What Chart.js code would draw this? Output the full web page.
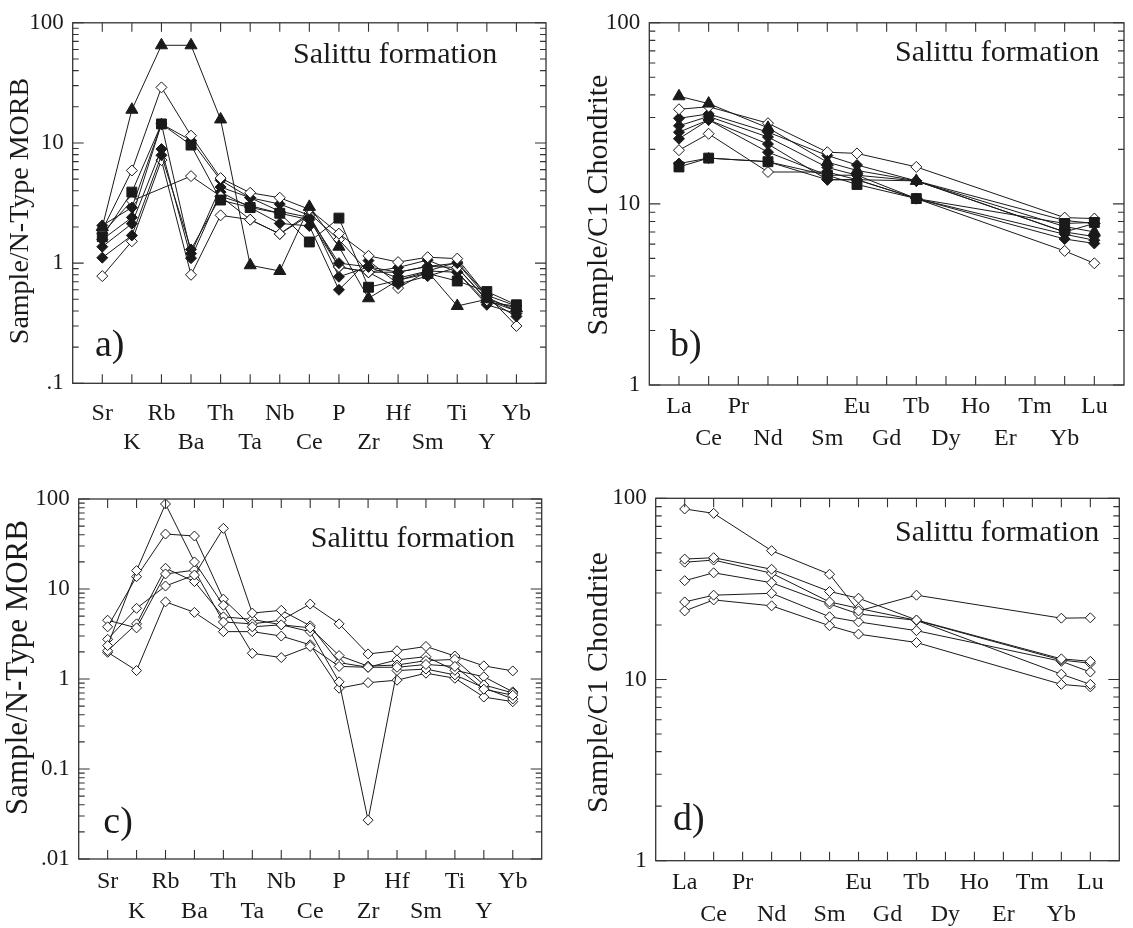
<!DOCTYPE html>
<html><head><meta charset="utf-8">
<script src="https://cdn.jsdelivr.net/npm/chart.js@4.4.1/dist/chart.umd.min.js"></script>
<style>
html,body{margin:0;padding:0;background:#fff;}
#wrap{position:relative;width:1133px;height:928px;overflow:hidden;}
canvas{position:absolute;}
</style></head><body>
<div id="wrap">
<canvas id="ca" width="566" height="464" style="left:0;top:0"></canvas>
<canvas id="cb" width="567" height="464" style="left:566px;top:0"></canvas>
<canvas id="cc" width="566" height="464" style="left:0;top:464px"></canvas>
<canvas id="cd" width="567" height="464" style="left:566px;top:464px"></canvas>
</div>
<script>
// ---- categories / tick labels ----
const spiderElements = ['Sr','K','Rb','Ba','Th','Ta','Nb','Ce','P','Zr','Hf','Sm','Ti','Y','Yb'];
const reeElements = ['La','Ce','Pr','Nd','','Sm','Eu','Gd','Tb','Dy','Ho','Er','Tm','Yb','Lu'];
const morbTickLabelsA = {'100':'100','10':'10','1':'1','0.1':'.1'};
const morbTickLabelsC = {'100':'100','10':'10','1':'1','0.1':'0.1','0.01':'.01'};
const chondTickLabels = {'100':'100','10':'10','1':'1'};

// ---- panel a: Sample/N-Type MORB (Sr..Yb) ----
const a1 = [2.0, 18.9, 65, 65, 15.7, 0.96, 0.86, 2.94, 1.37, 0.51, 0.72, 0.85, 0.44, 0.50, 0.42];
const a2 = [1.66, 3.9, 14.4, 9.6, 3.35, 2.9, 2.6, 1.5, 2.37, 0.63, 0.72, 0.82, 0.71, 0.58, 0.45];
const a3 = [1.88, 5.9, 29, 11.5, 5.1, 3.85, 3.5, 2.8, 1.76, 1.15, 1.02, 1.12, 1.09, 0.54, 0.44];
const a4 = [1.77, 3.3, null, 5.3, 3.6, 2.3, 1.75, 2.5, 0.93, 0.84, 0.84, 0.94, 0.92, 0.49, 0.40];
const a5 = [1.57, 2.4, 14.4, 1.2, 4.3, 3.5, 3.1, 2.5, 0.77, 0.93, 0.75, 0.86, 0.84, 0.45, 0.38];
const a6 = [1.37, 2.13, 8.9, 1.1, 3.9, 2.9, 2.14, 2.04, 0.60, 1.05, 0.67, 0.78, 0.92, 0.50, 0.36];
const a7 = [0.78, 1.52, 7.2, 0.8, 2.5, 2.3, 1.75, 2.6, 1.57, 0.84, 0.62, 0.86, 1.02, 0.54, 0.30];
const a8 = [1.11, 1.7, 7.9, 1.3, 3.6, 3.0, 2.6, 2.3, 0.93, 0.84, 0.92, 1.06, 0.84, 0.47, 0.44];
const a9 = [2.06, 2.9, 14.4, 10.5, 4.9, 3.5, 2.7, 2.4, 1.0, 0.93, 0.84, 0.94, 1.0, 0.52, 0.40];

// ---- panel b: Sample/C1 Chondrite (La..Lu) ----
const b1 = [39.3, 35.8, null, 26.3, null, 17.0, 15.3, null, 13.4, null, null, null, null, 7.5, 7.0];
const b2 = [16.0, 17.9, null, 17.1, null, 14.4, 12.8, null, 10.7, null, null, null, null, 7.8, 7.9];
const b3 = [33.3, 34.4, null, 27.9, null, 19.3, 19.0, null, 16.0, null, null, null, null, 8.4, 8.3];
const b4 = [19.8, 24.4, null, 15.0, null, 15.0, 13.6, null, 10.7, null, null, null, null, 5.5, 4.7];
const b5 = [29.7, 31.4, null, 24.9, null, 18.5, 16.4, null, 13.4, null, null, null, null, 8.1, 7.8];
const b6 = [27.0, 30.4, null, 23.4, null, 15.9, 14.4, null, 13.4, null, null, null, null, 7.0, 6.6];
const b7 = [24.9, 29.1, null, 21.4, null, 13.6, 13.6, null, 10.7, null, null, null, null, 6.4, 6.05];
const b8 = [22.9, 29.1, null, 19.3, null, 14.4, 14.4, null, 10.7, null, null, null, null, 6.8, 6.3];
const b9 = [16.7, 17.9, null, 17.1, null, 13.6, 13.6, null, 13.4, null, null, null, null, 7.0, 7.8];

// ---- panel c: Sample/N-Type MORB (Sr..Yb) ----
const c1 = [2.35, 16, 88, 20, 6.6, 1.93, 1.73, 2.3, 1.38, 1.35, 1.35, 1.45, 1.38, 0.77, 0.66];
const c2 = [3.8, 13.7, 40.8, 38.8, 7.7, 3.8, 4.0, 3.7, 1.82, 1.39, 1.43, 1.60, 1.65, 0.86, 0.70];
const c3 = [2.76, 6.1, 10.8, 14.3, 47.2, 5.4, 5.8, 3.9, 1.52, 1.35, 1.63, 1.77, 1.25, 1.06, 0.72];
const c4 = [4.5, 3.7, 14.7, 16.2, 4.3, 4.1, 4.5, 6.8, 4.1, 1.9, 2.06, 2.3, 1.8, 1.4, 1.23];
const c5 = [2.06, 4.1, 17, 12.1, 4.9, 4.6, 4.0, 3.36, 0.93, 0.027, 1.24, 1.29, 1.11, 0.80, 0.60];
const c6 = [1.98, 1.24, 7.2, 5.5, 3.36, 3.36, 3.0, 2.4, 0.79, 0.91, 0.97, 1.16, 1.02, 0.63, 0.56];

// ---- panel d: Sample/C1 Chondrite (La..Lu) ----
const d1 = [87.3, 82.6, null, 51.4, null, 38.1, 23.9, null, 29.2, null, null, null, null, 21.8, 21.9];
const d2 = [46.2, 47.0, null, 40.6, null, 30.6, 28.1, null, 21.3, null, null, null, null, 13.0, 12.6];
const d3 = [44.4, 45.6, null, 38.6, null, 26.8, 24.7, null, 21.2, null, null, null, null, 12.8, 12.3];
const d4 = [35.1, 38.8, null, 34.2, null, 26.1, 23.0, null, 21.2, null, null, null, null, 10.7, 9.4];
const d5 = [26.8, 29.2, null, 29.9, null, 22.2, 20.8, null, 18.6, null, null, null, null, 12.6, 11.0];
const d6 = [23.9, 27.5, null, 25.5, null, 19.8, 17.8, null, 16.0, null, null, null, null, 9.4, 9.1];

const INK = '#1a1a1a';
const SERIF = '"Liberation Serif", "Times New Roman", serif';

const STY = {
  tri:  {pointStyle:'triangle', pointRadius:7, fill:INK},
  sq:   {pointStyle:'rect', pointRadius:7, fill:INK},
  dia:  {pointStyle:'rectRot', pointRadius:5.5, fill:INK},
  odia: {pointStyle:'rectRot', pointRadius:5.5, fill:'#ffffff'},
  odiaS:{pointStyle:'rectRot', pointRadius:5, fill:'#ffffff'}
};

function mk(vals, s){
  return {
    data: vals.map((v,i)=>({x:i, y:v})),
    borderColor: INK, borderWidth: 1, tension: 0, spanGaps: true,
    pointStyle: s.pointStyle, pointRadius: s.pointRadius, pointHoverRadius: s.pointRadius,
    pointBackgroundColor: s.fill, pointBorderColor: INK, pointBorderWidth: 1
  };
}

const frameTicks = {
  id: 'frameTicks',
  afterDraw(chart){
    const {ctx, chartArea} = chart;
    const {left, right, top, bottom} = chartArea;
    const x = chart.scales.x, y = chart.scales.y;
    ctx.save();
    ctx.strokeStyle = '#333';
    ctx.lineWidth = 1.3;
    ctx.strokeRect(left, top, right-left, bottom-top);
    ctx.lineWidth = 1.1;
    ctx.beginPath();
    for (let i=0;i<15;i++){
      const px = x.getPixelForValue(i);
      ctx.moveTo(px, bottom); ctx.lineTo(px, bottom-9);
      ctx.moveTo(px, top); ctx.lineTo(px, top+9);
    }
    const lo = Math.round(Math.log10(y.min)), hi = Math.round(Math.log10(y.max));
    for (let k=lo;k<=hi;k++){
      for (let m=1;m<=9;m++){
        if (k===hi && m>1) break;
        const v = m*Math.pow(10,k);
        const py = y.getPixelForValue(v);
        const len = m===1 ? 11 : 6;
        ctx.moveTo(left, py); ctx.lineTo(left+len, py);
        ctx.moveTo(right, py); ctx.lineTo(right-len, py);
      }
    }
    ctx.stroke();
    ctx.restore();
  }
};

const panelText = {
  id: 'panelText',
  afterDraw(chart, args, opts){
    const ctx = chart.ctx;
    ctx.save();
    ctx.fillStyle = INK;
    for (const it of opts.items){
      ctx.font = it.size + 'px ' + SERIF;
      ctx.textBaseline = 'alphabetic';
      if (it.rot){
        ctx.save();
        ctx.translate(it.x, it.y);
        ctx.rotate(-Math.PI/2);
        ctx.textAlign = 'center';
        ctx.fillText(it.text, 0, 0);
        ctx.restore();
      } else {
        ctx.textAlign = 'left';
        ctx.fillText(it.text, it.x, it.y);
      }
    }
    ctx.restore();
  }
};

function build(id, cfg){
  const names = cfg.names;
  new Chart(document.getElementById(id), {
    type: 'line',
    data: {datasets: cfg.datasets},
    options: {
      responsive: false, animation: false, devicePixelRatio: 1,
      layout: {padding: {top: cfg.pad.top, right: cfg.pad.right, left: 0, bottom: 0}},
      plugins: {legend: {display:false}, tooltip: {enabled:false},
        panelText: {items: cfg.texts}},
      scales: {
        x: {
          type: 'linear', min: -1, max: 15,
          grid: {display:false, drawTicks:false}, border: {display:false},
          afterFit(s){ s.height = cfg.xH; },
          ticks: {
            stepSize: 1, autoSkip: false, maxRotation: 0, minRotation: 0,
            padding: cfg.xPad, color: INK,
            font: {family: SERIF, size: 24, lineHeight: cfg.xLH + 'px'},
            callback(v){
              if (v < 0 || v > 14 || v !== Math.round(v)) return '';
              const n = names[v];
              return v % 2 === 0 ? [n, ''] : ['', n];
            }
          }
        },
        y: {
          type: 'logarithmic', min: cfg.ymin, max: cfg.ymax,
          grid: {display:false, drawTicks:false}, border: {display:false},
          afterFit(s){ s.width = cfg.yW; },
          ticks: {
            autoSkip: false, padding: 9, color: INK,
            font: {family: SERIF, size: 23},
            callback(v){
              const l = Math.log10(v);
              if (Math.abs(l - Math.round(l)) > 1e-6) return '';
              const key = String(Math.pow(10, Math.round(l)));
              return cfg.ylabels[key] !== undefined ? cfg.ylabels[key] : '';
            }
          }
        }
      }
    },
    plugins: [frameTicks, panelText]
  });
}

// Chart.js draws dataset 0 on top, so the filled symbols come first.
build('ca', {
  names: spiderElements, ymin: 0.1, ymax: 100, ylabels: morbTickLabelsA,
  pad: {top: 14.3, right: 20}, yW: 72.7, xH: 80.7, xPad: 15.5, xLH: 29,
  datasets: [mk(a1,STY.tri), mk(a2,STY.sq), mk(a3,STY.odia), mk(a9,STY.dia), mk(a4,STY.odia),
             mk(a5,STY.dia), mk(a8,STY.dia), mk(a6,STY.dia), mk(a7,STY.odia)],
  texts: [
    {text:'Salittu formation', x:293, y:63, size:30},
    {text:'a)', x:95, y:356, size:38},
    {text:'Sample/N-Type MORB', x:28, y:211, size:28, rot:true}
  ]
});

build('cb', {
  names: reeElements, ymin: 1, ymax: 100, ylabels: chondTickLabels,
  pad: {top: 14, right: 9}, yW: 83.3, xH: 79, xPad: 5.5, xLH: 32,
  datasets: [mk(b1,STY.tri), mk(b2,STY.sq), mk(b9,STY.dia), mk(b3,STY.odia), mk(b5,STY.dia),
             mk(b6,STY.dia), mk(b7,STY.dia), mk(b8,STY.dia), mk(b4,STY.odia)],
  texts: [
    {text:'Salittu formation', x:329, y:61, size:30},
    {text:'b)', x:104, y:356, size:38},
    {text:'Sample/C1 Chondrite', x:41, y:205, size:30, rot:true}
  ]
});

build('cc', {
  names: spiderElements, ymin: 0.01, ymax: 100, ylabels: morbTickLabelsC,
  pad: {top: 35, right: 24.3}, yW: 78.7, xH: 69, xPad: 7.5, xLH: 30,
  datasets: [mk(c1,STY.odiaS), mk(c2,STY.odiaS), mk(c3,STY.odiaS), mk(c4,STY.odiaS), mk(c5,STY.odiaS), mk(c6,STY.odiaS)],
  texts: [
    {text:'Salittu formation', x:310.7, y:82.7, size:30},
    {text:'c)', x:103.3, y:369, size:38},
    {text:'Sample/N-Type MORB', x:27, y:203.5, size:31, rot:true}
  ]
});

build('cd', {
  names: reeElements, ymin: 1, ymax: 100, ylabels: chondTickLabels,
  pad: {top: 34.3, right: 13.7}, yW: 89.7, xH: 67.3, xPad: 6.5, xLH: 31.7,
  datasets: [mk(d1,STY.odiaS), mk(d2,STY.odiaS), mk(d3,STY.odiaS), mk(d4,STY.odiaS), mk(d5,STY.odiaS), mk(d6,STY.odiaS)],
  texts: [
    {text:'Salittu formation', x:329, y:77, size:30},
    {text:'d)', x:107, y:366, size:38},
    {text:'Sample/C1 Chondrite', x:41, y:218.5, size:30, rot:true}
  ]
});
</script>
</body></html>
